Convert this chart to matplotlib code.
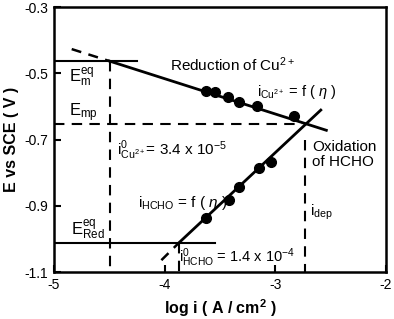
import matplotlib
matplotlib.use("Agg")
import matplotlib.pyplot as plt

plt.rcParams['font.family'] = ['Liberation Sans', 'DejaVu Sans']
plt.rcParams['mathtext.fontset'] = 'custom'
plt.rcParams['mathtext.rm'] = 'Liberation Sans'
plt.rcParams['mathtext.it'] = 'Liberation Sans:italic'
plt.rcParams['mathtext.bf'] = 'Liberation Sans:bold'

# measured points
cu_logi = [-3.63, -3.55, -3.43, -3.33, -3.17, -2.83]
cu_E = [-0.553, -0.557, -0.573, -0.587, -0.600, -0.628]
hcho_logi = [-3.63, -3.42, -3.33, -3.15, -3.04]
hcho_E = [-0.937, -0.881, -0.843, -0.787, -0.769]

# Tafel lines
red_x = [-4.50, -2.54]
red_y = [-0.463, -0.672]
red_ext_x = [-4.84, -4.50]
red_ext_y = [-0.427, -0.463]
ox_x = [-3.87, -2.59]
ox_y = [-1.011, -0.611]
ox_ext_x = [-4.03, -3.87]
ox_ext_y = [-1.064, -1.011]

E_m_eq = -0.463
E_mp = -0.653
E_red_eq = -1.011
log_i0_cu = -4.49
log_i0_hcho = -3.87
log_i_dep = -2.73

fig, ax = plt.subplots(figsize=(3.94, 3.19), dpi=100)
fig.subplots_adjust(left=0.137, right=0.98, bottom=0.147, top=0.978)

dash = (0, (5, 3.5))
ax.plot(red_x, red_y, color='black', lw=2)
ax.plot(red_ext_x, red_ext_y, color='black', lw=1.8, linestyle=(0, (4, 3)))
ax.plot(ox_x, ox_y, color='black', lw=2)
ax.plot(ox_ext_x, ox_ext_y, color='black', lw=1.8, linestyle=(0, (4, 3)))

ax.plot([-5, -4.25], [E_m_eq, E_m_eq], color='black', lw=1.5)
ax.plot([-5, -2.76], [E_mp, E_mp], color='black', lw=1.5, linestyle=dash)
ax.plot([-5, -3.55], [E_red_eq, E_red_eq], color='black', lw=1.5)
ax.plot([log_i0_cu, log_i0_cu], [E_m_eq, -1.1], color='black', lw=1.5, linestyle=dash)
ax.plot([log_i0_hcho, log_i0_hcho], [E_red_eq, -1.1], color='black', lw=1.5, linestyle=dash)
ax.plot([log_i_dep, log_i_dep], [-0.70, -1.1], color='black', lw=1.5, linestyle=dash)

ax.plot(cu_logi, cu_E, 'o', color='black', markersize=7)
ax.plot(hcho_logi, hcho_E, 'o', color='black', markersize=7)

fs = 11
ax.text(-3.95, -0.475, r'Reduction of Cu$^{2+}$', fontsize=fs, va='center')
ax.text(-3.17, -0.557, r'i$_{\mathrm{Cu}^{2+}}$ = f ( $\eta$ )', fontsize=fs - 0.5, va='center')
ax.text(-4.86, -0.513, r'E$_{\mathrm{m}}^{\mathrm{eq}}$', fontsize=fs + 1, va='center')
ax.text(-4.86, -0.62, r'E$_{\mathrm{mp}}$', fontsize=fs + 1, va='center')
ax.text(-4.43, -0.732, r'i$^{0}_{\mathrm{Cu}^{2+}}$= 3.4 x 10$^{-5}$', fontsize=fs, va='center')
ax.text(-2.665, -0.723, 'Oxidation', fontsize=fs, va='center')
ax.text(-2.665, -0.768, 'of HCHO', fontsize=fs, va='center')
ax.text(-4.24, -0.892, r'i$_{\mathrm{HCHO}}$ = f ( $\eta$ )', fontsize=fs, va='center')
ax.text(-4.85, -0.974, r'E$_{\mathrm{Red}}^{\mathrm{eq}}$', fontsize=fs + 1, va='center')
ax.text(-3.87, -1.058, r'i$^{0}_{\mathrm{HCHO}}$ = 1.4 x 10$^{-4}$', fontsize=fs - 0.5, va='center')
ax.text(-2.69, -0.919, r'i$_{\mathrm{dep}}$', fontsize=fs, va='center')

ax.set_xlim(-5, -2)
ax.set_ylim(-1.1, -0.3)
ax.set_xticks([-5, -4, -3, -2])
ax.set_yticks([-1.1, -0.9, -0.7, -0.5, -0.3])
ax.set_xticklabels(['-5', '-4', '-3', '-2'])
ax.set_yticklabels(['-1.1', '-0.9', '-0.7', '-0.5', '-0.3'])
ax.tick_params(direction='in', length=5, width=1.5, labelsize=10, pad=4)
for s in ax.spines.values():
    s.set_linewidth(1.8)

ax.set_xlabel(r'log i ( A / cm$^{\mathbf{2}}$ )', fontsize=11.5, fontweight='bold')
ax.set_ylabel('E vs SCE ( V )', fontsize=11.5, fontweight='bold')

fig.savefig('out.png', dpi=100)
